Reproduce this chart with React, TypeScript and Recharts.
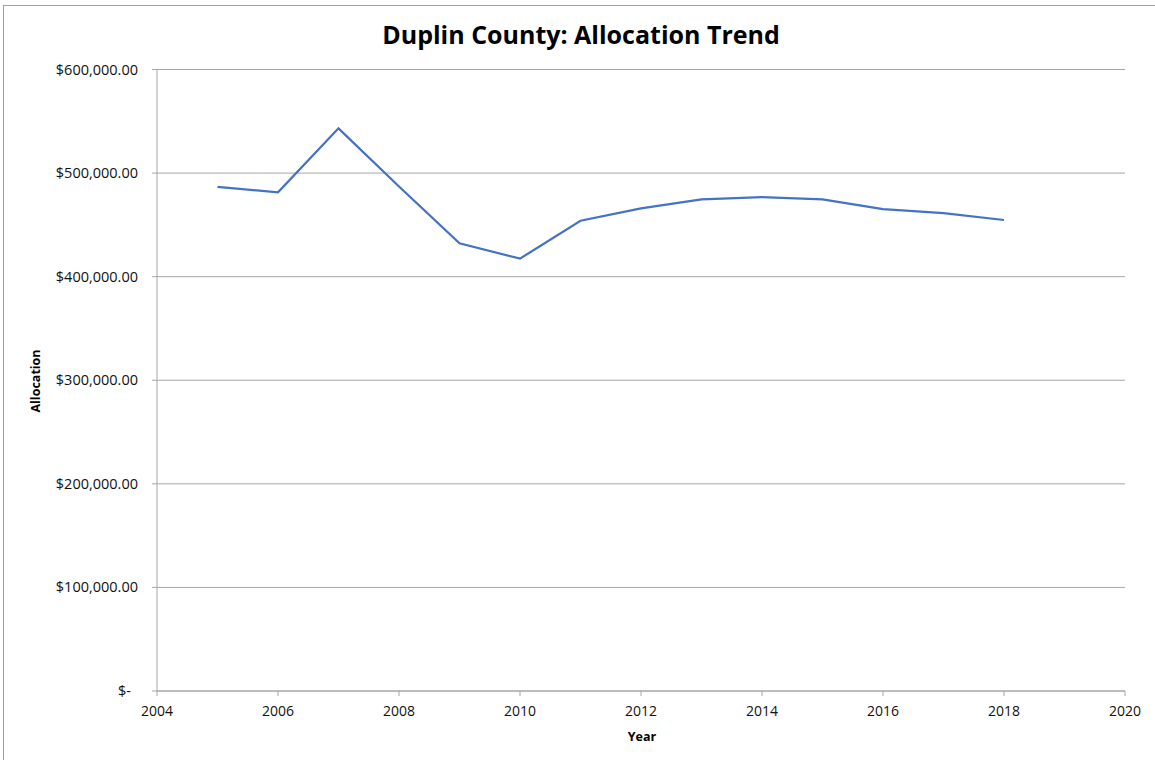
import React from 'react';
import { LineChart, Line, XAxis, YAxis, CartesianGrid } from 'recharts';

const years = [2005, 2006, 2007, 2008, 2009, 2010, 2011, 2012, 2013, 2014, 2015, 2016, 2017, 2018];
const allocation = [486600, 481500, 543200, 487000, 432200, 417400, 454000, 466000, 474700, 476900, 474700, 465300, 461400, 454700];
const xTicks = [2004, 2006, 2008, 2010, 2012, 2014, 2016, 2018, 2020];
const yTicks = [0, 100000, 200000, 300000, 400000, 500000, 600000];

const data = years.map((y, i) => ({ year: y, allocation: allocation[i] }));

const FONT = '"Open Sans", Lato, sans-serif';
const AXIS_GRAY = '#a6a6a6';

function fmtMoney(v: number): string {
  if (v === 0) return '$-';
  return '$' + v.toLocaleString('en-US', { minimumFractionDigits: 2, maximumFractionDigits: 2 });
}

const YTick = (props: any) => {
  const { x, y, payload } = props;
  const isZero = payload.value === 0;
  return (
    <text x={isZero ? x - 7 : x} y={y} dy={5} textAnchor="end" fill="#111" fontSize={14.5} fontFamily={FONT}>
      {fmtMoney(payload.value)}
    </text>
  );
};

export default function App() {
  return (
    <div style={{ position: 'absolute', left: 0, top: 0, width: 1155, height: 760, overflow: 'hidden', background: '#fff', fontFamily: FONT }}>
      <div style={{ position: 'absolute', left: 3, top: 5, width: 1200, height: 800, border: '1.5px solid #a0a0a0' }} />
      <div style={{ position: 'absolute', left: 581, top: 34, transform: 'translate(-50%, -50%)', fontSize: 25, fontWeight: 700, color: '#000', whiteSpace: 'nowrap' }}>
        Duplin County: Allocation Trend
      </div>
      <div style={{ position: 'absolute', left: 35, top: 381, transform: 'translate(-50%, -50%) rotate(-90deg)', fontSize: 12.5, fontWeight: 700, color: '#000', whiteSpace: 'nowrap' }}>
        Allocation
      </div>
      <div style={{ position: 'absolute', left: 642, top: 736, transform: 'translate(-50%, -50%)', fontSize: 12.5, fontWeight: 700, color: '#000' }}>
        Year
      </div>
      <div style={{ position: 'absolute', left: 0, top: 0 }}>
        <LineChart width={1155} height={760} data={data} margin={{ top: 69.5, right: 30, bottom: 39, left: 37 }}>
          <CartesianGrid vertical={false} stroke={AXIS_GRAY} strokeWidth={1} />
          <XAxis
            dataKey="year"
            type="number"
            domain={[2004, 2020]}
            ticks={xTicks}
            height={30}
            tickSize={5}
            tickMargin={10}
            stroke={AXIS_GRAY}
            tick={{ fill: '#111', fontSize: 14, fontFamily: FONT }}
          />
          <YAxis
            type="number"
            domain={[0, 600000]}
            ticks={yTicks}
            width={120}
            tickSize={5}
            tickMargin={14}
            stroke={AXIS_GRAY}
            tick={<YTick />}
          />
          <Line
            type="linear"
            dataKey="allocation"
            stroke="#4472c4"
            strokeWidth={2.25}
            dot={false}
            isAnimationActive={false}
          />
        </LineChart>
      </div>
    </div>
  );
}
